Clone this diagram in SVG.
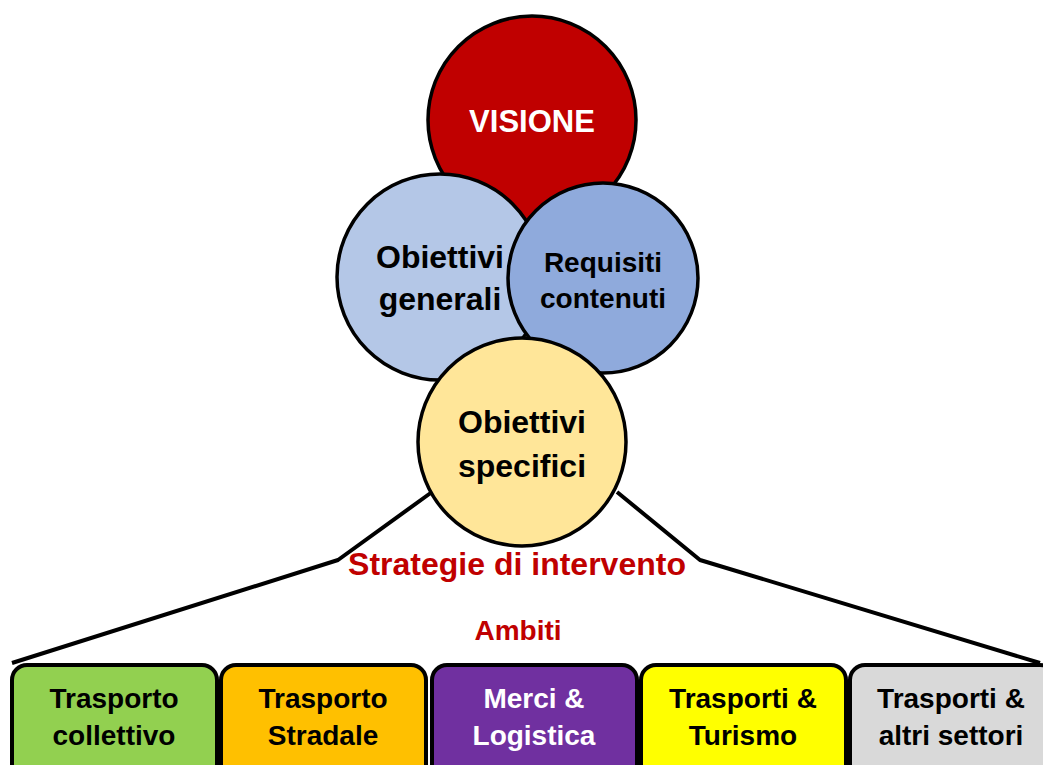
<svg xmlns="http://www.w3.org/2000/svg" width="1043" height="765" viewBox="0 0 1043 765">
  <style>
    .c { stroke: #000; stroke-width: 3.5; }
    .b { stroke: #000; stroke-width: 4; }
    .t { font-family: "Liberation Sans", Arial, sans-serif; font-weight: bold; text-anchor: middle; }
    .k { fill: #000; }
    .w { fill: #fff; }
    .r { fill: #C00000; }
    .ln { fill: none; stroke: #000; stroke-width: 4; stroke-linejoin: round; }
  </style>
  <rect width="1043" height="765" fill="#fff"/>
  <g id="connectors">
    <polyline class="ln" points="432,492 338,560 12,663"/>
    <polyline class="ln" points="617,492 700,560 1040,663"/>
  </g>
  <g id="visione">
    <circle class="c" cx="532" cy="120" r="104" fill="#C00000"/>
    <text class="t w" x="532" y="132" font-size="31">VISIONE</text>
  </g>
  <g id="obiettivi-generali">
    <circle class="c" cx="440" cy="277" r="103" fill="#B4C7E7"/>
    <text class="t k" x="440" y="268" font-size="32">Obiettivi</text>
    <text class="t k" x="440" y="310" font-size="32">generali</text>
  </g>
  <g id="requisiti-contenuti">
    <circle class="c" cx="603" cy="278" r="95" fill="#8FAADC"/>
    <text class="t k" x="603" y="272" font-size="28">Requisiti</text>
    <text class="t k" x="603" y="308" font-size="28">contenuti</text>
  </g>
  <g id="obiettivi-specifici">
    <circle class="c" cx="522" cy="442" r="104" fill="#FFE699"/>
    <text class="t k" x="522" y="433" font-size="32">Obiettivi</text>
    <text class="t k" x="522" y="477" font-size="32">specifici</text>
  </g>
  <g id="label-strategie">
    <text class="t r" x="517" y="575" font-size="32">Strategie di intervento</text>
  </g>
  <g id="label-ambiti">
    <text class="t r" x="518" y="640" font-size="28">Ambiti</text>
  </g>
  <g id="trasporto-collettivo">
    <rect class="b" x="12" y="665" width="205" height="120" rx="15" fill="#92D050"/>
    <text class="t k" x="114" y="708" font-size="28">Trasporto</text>
    <text class="t k" x="114" y="745" font-size="28">collettivo</text>
  </g>
  <g id="trasporto-stradale">
    <rect class="b" x="221" y="665" width="205" height="120" rx="15" fill="#FFC000"/>
    <text class="t k" x="323" y="708" font-size="28">Trasporto</text>
    <text class="t k" x="323" y="745" font-size="28">Stradale</text>
  </g>
  <g id="merci-logistica">
    <rect class="b" x="432" y="665" width="205" height="120" rx="15" fill="#7030A0"/>
    <text class="t w" x="534" y="708" font-size="28">Merci &amp;</text>
    <text class="t w" x="534" y="745" font-size="28">Logistica</text>
  </g>
  <g id="trasporti-turismo">
    <rect class="b" x="641" y="665" width="205" height="120" rx="15" fill="#FFFF00"/>
    <text class="t k" x="743" y="708" font-size="28">Trasporti &amp;</text>
    <text class="t k" x="743" y="745" font-size="28">Turismo</text>
  </g>
  <g id="trasporti-altri-settori">
    <rect class="b" x="850" y="665" width="205" height="120" rx="15" fill="#D9D9D9"/>
    <text class="t k" x="951" y="708" font-size="28">Trasporti &amp;</text>
    <text class="t k" x="951" y="745" font-size="28">altri settori</text>
  </g>
</svg>
